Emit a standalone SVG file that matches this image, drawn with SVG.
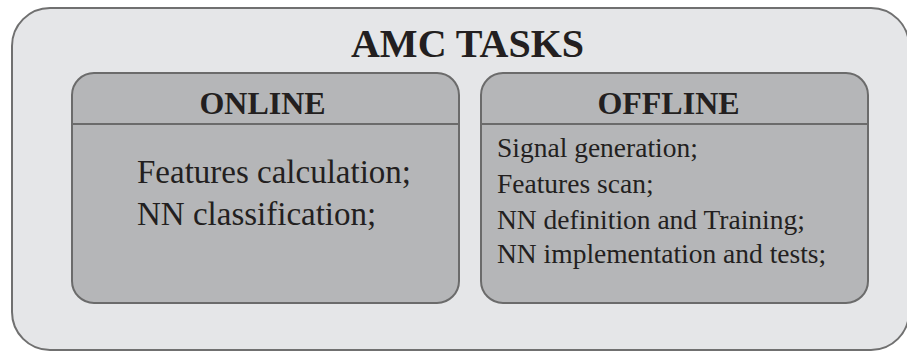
<svg xmlns="http://www.w3.org/2000/svg" width="907" height="352" viewBox="0 0 907 352">
<style>
.outer{fill:#e5e6e8;stroke:#707070;stroke-width:2}
.box{fill:#b5b6b8;stroke:#6b6b6b;stroke-width:2}
.sep{stroke:#6b6b6b;stroke-width:2}
text{font-family:"Liberation Serif","Times New Roman",serif;fill:#231f20}
.title{font-size:40px;font-weight:bold;text-anchor:middle}
.head{font-size:32px;font-weight:bold;text-anchor:middle}
.big{font-size:33px}
.small{font-size:27.5px}
</style>
<rect class="outer" x="12" y="8" width="897" height="342" rx="38" ry="38"/>
<text class="title" x="467.5" y="57">AMC TASKS</text>
<g id="online">
<rect class="box" x="72" y="73" width="387" height="230" rx="22" ry="22"/>
<line class="sep" x1="72" y1="124" x2="459" y2="124"/>
<text class="head" x="262.5" y="114">ONLINE</text>
<text class="big" x="137" y="183">Features calculation;</text>
<text class="big" x="137" y="225">NN classification;</text>
</g>
<g id="offline">
<rect class="box" x="481" y="73" width="387" height="230" rx="22" ry="22"/>
<line class="sep" x1="481" y1="124" x2="868" y2="124"/>
<text class="head" x="668.5" y="114">OFFLINE</text>
<text class="small" x="497" y="157">Signal generation;</text>
<text class="small" x="497" y="193">Features scan;</text>
<text class="small" x="497" y="229">NN definition and Training;</text>
<text class="small" x="497" y="263">NN implementation and tests;</text>
</g>
<g id="connectors"/>
</svg>
